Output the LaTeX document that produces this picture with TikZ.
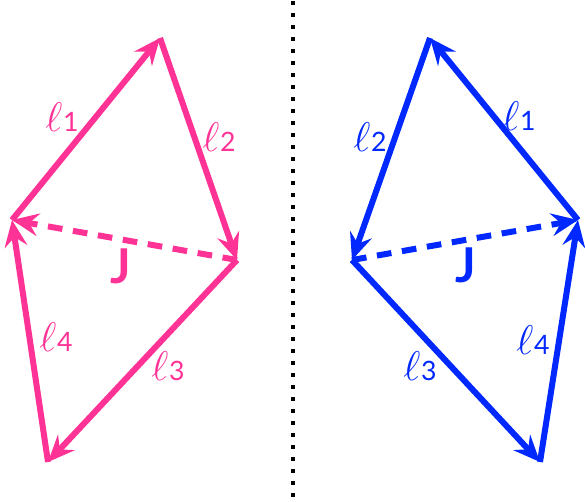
\documentclass[tikz,border=0pt]{standalone}
\usepackage{fontspec}
\setmainfont{Lato}
\usetikzlibrary{arrows.meta}
\definecolor{hotpink}{RGB}{255,51,150}
\definecolor{vecblue}{RGB}{0,40,255}
\newcommand{\lvec}[1]{\scalebox{1.5}{$\ell$}\kern0.5pt#1}

\begin{document}
\begin{tikzpicture}[x=0.75pt,y=-0.75pt,
  edge/.style={line width=4.5pt,-{Stealth[length=20pt,width=17pt,inset=7pt]}},
  chord/.style={edge,dash pattern=on 11pt off 8pt},
  lab/.style={font=\fontsize{20}{24}\selectfont},
  jlab/.style={font=\fontsize{36}{38}\selectfont\bfseries}]
\useasboundingbox (0,0) rectangle (585,502);

% left quadrilateral
\coordinate (pa) at (12,220);
\coordinate (pb) at (160,38);
\coordinate (pc) at (237,260);
\coordinate (pd) at (48,462);
\begin{scope}[hotpink]
\draw[edge] (pa) -- (pb);
\draw[edge] (pb) -- (pc);
\draw[edge] (pc) -- (pd);
\draw[edge] (pd) -- (pa);
\draw[chord] (pc) -- (pa);
\node[lab] (pl1) at (62,117) {\lvec{1}};
\node[lab] (pl2) at (219,137) {\lvec{2}};
\node[lab] (pl3) at (168,366) {\lvec{3}};
\node[lab] (pl4) at (56,337) {\lvec{4}};
\node[jlab] (pj) at (121,266) {J};
\end{scope}

% separator
\coordinate (top) at (293,1);
\coordinate (bot) at (293,502);
\draw[line width=3pt,dash pattern=on 3pt off 6pt] (top) -- (bot);

% right quadrilateral
\coordinate (qe) at (352,260);
\coordinate (qf) at (430,38);
\coordinate (qg) at (578,220);
\coordinate (qh) at (540,462);
\begin{scope}[vecblue]
\draw[edge] (qg) -- (qf);
\draw[edge] (qf) -- (qe);
\draw[edge] (qe) -- (qh);
\draw[edge] (qh) -- (qg);
\draw[chord] (qe) -- (qg);
\node[lab] (ql1) at (519,116) {\lvec{1}};
\node[lab] (ql2) at (370,137) {\lvec{2}};
\node[lab] (ql3) at (420,366) {\lvec{3}};
\node[lab] (ql4) at (533,340) {\lvec{4}};
\node[jlab] (qj) at (466,265) {J};
\end{scope}
\end{tikzpicture}
\end{document}
